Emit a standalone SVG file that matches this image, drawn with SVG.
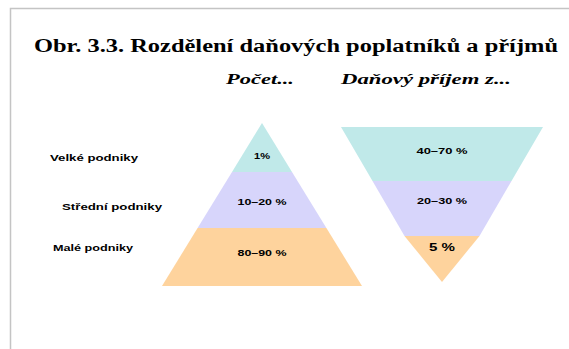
<svg xmlns="http://www.w3.org/2000/svg" width="569" height="349" viewBox="0 0 569 349">
<style>
.title{font-family:"Liberation Serif","Times New Roman",serif;font-weight:bold;font-size:18px;fill:#000}
.sub{font-family:"Liberation Serif","Times New Roman",serif;font-weight:bold;font-style:italic;font-size:15px;fill:#000}
.lbl{font-family:"Liberation Sans",Arial,sans-serif;font-weight:bold;font-size:9px;fill:#000}
.val{font-family:"Liberation Sans",Arial,sans-serif;font-weight:bold;font-size:9px;fill:#000;text-anchor:middle}
.c1{fill:#c0e9e9}
.c2{fill:#d7d5fb}
.c3{fill:#fed39d}
</style>
<rect width="569" height="349" fill="#ffffff"/>
<path d="M10.5 349 V8.5 H569" fill="none" stroke="#c4c4c4" stroke-width="1.5"/>
<text class="title" x="34" y="52" textLength="524" lengthAdjust="spacingAndGlyphs">Obr. 3.3.  Rozdělení daňových poplatníků a příjmů</text>
<text class="sub" x="226" y="84" textLength="68" lengthAdjust="spacingAndGlyphs">Počet...</text>
<text class="sub" x="341" y="84" textLength="170" lengthAdjust="spacingAndGlyphs">Daňový příjem z...</text>
<g id="labels">
<text class="lbl" x="50" y="161" textLength="88" lengthAdjust="spacingAndGlyphs">Velké podniky</text>
<text class="lbl" x="62" y="210" textLength="100" lengthAdjust="spacingAndGlyphs">Střední podniky</text>
<text class="lbl" x="53" y="251" textLength="80" lengthAdjust="spacingAndGlyphs">Malé podniky</text>
</g>
<g id="pyramid-count">
<g id="count-top"><polygon class="c1" points="262,123 292,172 232,172"/><text class="val" x="262" y="159" textLength="16" lengthAdjust="spacingAndGlyphs">1%</text></g>
<g id="count-mid"><polygon class="c2" points="232,172 292,172 326.4,228 197.6,228"/><text class="val" x="262" y="205" textLength="49" lengthAdjust="spacingAndGlyphs">10–20 %</text></g>
<g id="count-bot"><polygon class="c3" points="197.6,228 326.4,228 362,286 162,286"/><text class="val" x="262" y="256" textLength="49" lengthAdjust="spacingAndGlyphs">80–90 %</text></g>
</g>
<g id="pyramid-income">
<g id="inc-top"><polygon class="c1" points="341,127 543,127 511.5,181 372.5,181"/><text class="val" x="442" y="154" textLength="51" lengthAdjust="spacingAndGlyphs">40–70 %</text></g>
<g id="inc-mid"><polygon class="c2" points="372.5,181 511.5,181 479.5,236 404.5,236"/><text class="val" x="442" y="204" textLength="50" lengthAdjust="spacingAndGlyphs">20–30 %</text></g>
<g id="inc-bot"><polygon class="c3" points="404.5,236 479.5,236 442,282"/><text class="val" x="442" y="251" style="font-size:10px" textLength="26" lengthAdjust="spacingAndGlyphs">5 %</text></g>
</g>
</svg>
